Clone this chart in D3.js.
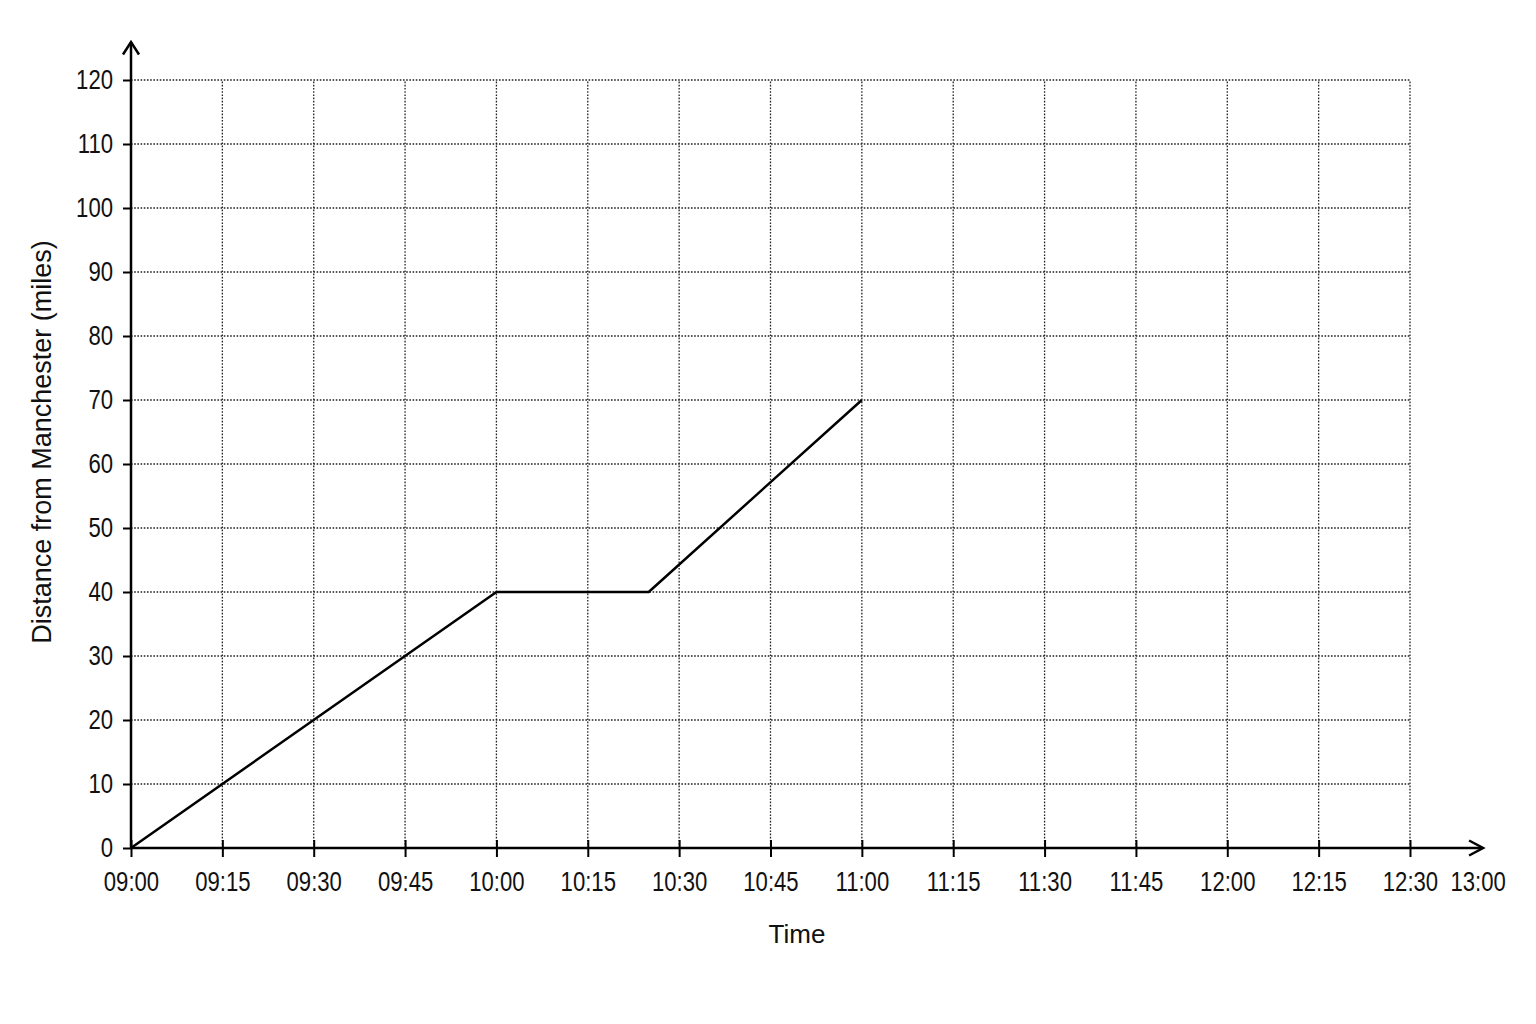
<!DOCTYPE html>
<html>
<head>
<meta charset="utf-8">
<script src="https://cdn.jsdelivr.net/npm/d3@7"></script>
<style>
  body { margin: 0; background: #fff; }
  .tick text { font-family: "Liberation Sans", Arial, sans-serif; font-size: 27px; fill: #111; }
  .title { font-family: "Liberation Sans", Arial, sans-serif; font-size: 27px; fill: #111; }
</style>
</head>
<body>
<script>
// journey data: minutes after 09:00 and distance in miles
var timeMinutes = [0, 60, 85, 120];
var distanceMiles = [0, 40, 40, 70];

// axis ticks
var xTickMinutes = [0, 15, 30, 45, 60, 75, 90, 105, 120, 135, 150, 165, 180, 195, 210];
var xTickLabels = ["09:00", "09:15", "09:30", "09:45", "10:00", "10:15", "10:30", "10:45",
  "11:00", "11:15", "11:30", "11:45", "12:00", "12:15", "12:30"];
var xEndLabel = "13:00";
var yTicks = [0, 10, 20, 30, 40, 50, 60, 70, 80, 90, 100, 110, 120];

var width = 1536;
var height = 1024;
var axisEndMin = 222; // where the x arrow stops
var yArrowTop = 42;
var squeeze = 0.82; // tick labels are a narrow face

var svg = d3
  .select("body")
  .append("svg")
  .attr("width", width)
  .attr("height", height);

var x = d3.scaleLinear().domain([0, 210]).range([131, 1410]);
var y = d3.scaleLinear().domain([0, 120]).range([848, 80]);

// dotted grid
var grid = svg.append("g").attr("stroke", "#222").attr("stroke-width", 1.3).attr("stroke-dasharray", "1.6,1.6");
grid.selectAll(".vgrid")
  .data(xTickMinutes.slice(1))
  .enter()
  .append("line")
  .attr("x1", function (d) { return x(d); })
  .attr("x2", function (d) { return x(d); })
  .attr("y1", y(0))
  .attr("y2", y(120));
grid.selectAll(".hgrid")
  .data(yTicks.slice(1))
  .enter()
  .append("line")
  .attr("x1", x(0))
  .attr("x2", x(210))
  .attr("y1", function (d) { return y(d); })
  .attr("y2", function (d) { return y(d); });

// x axis with ticks crossing the line
var xAxis = d3.axisBottom(x)
  .tickValues(xTickMinutes)
  .tickFormat(function (d, i) { return xTickLabels[i]; })
  .tickSizeInner(9)
  .tickSizeOuter(0)
  .tickPadding(15);
var gx = svg.append("g").attr("transform", "translate(0," + y(0) + ")").call(xAxis);
gx.select(".domain").remove();
gx.selectAll(".tick line").attr("y1", -8).attr("stroke", "#000").attr("stroke-width", 2);
gx.selectAll(".tick text").attr("dy", "0.72em").attr("transform", "scale(" + squeeze + ",1)");

var yAxis = d3.axisLeft(y)
  .tickValues(yTicks)
  .tickSizeInner(8)
  .tickSizeOuter(0)
  .tickPadding(10);
var gy = svg.append("g").attr("transform", "translate(" + x(0) + ",0)").call(yAxis);
gy.select(".domain").remove();
gy.selectAll(".tick line").attr("stroke", "#000").attr("stroke-width", 2);
gy.selectAll(".tick text")
  .attr("x", -18 / squeeze)
  .attr("transform", "scale(" + squeeze + ",1)");

// axis lines with arrowheads
var axisLine = svg.append("g").attr("stroke", "#000").attr("stroke-width", 2.5).attr("fill", "none");
axisLine.append("line")
  .attr("x1", x(0)).attr("y1", y(0))
  .attr("x2", x(axisEndMin)).attr("y2", y(0));
axisLine.append("polyline")
  .attr("points", [[x(axisEndMin) - 14, y(0) - 7.5], [x(axisEndMin), y(0)], [x(axisEndMin) - 14, y(0) + 7.5]].join(" "));
axisLine.append("line")
  .attr("x1", x(0)).attr("y1", y(0))
  .attr("x2", x(0)).attr("y2", yArrowTop);
axisLine.append("polyline")
  .attr("points", [[x(0) - 8, yArrowTop + 12.5], [x(0), yArrowTop], [x(0) + 8, yArrowTop + 12.5]].join(" "));

// end label at the arrow
svg.append("g").attr("class", "tick")
  .attr("transform", "translate(" + (x(axisEndMin) - 5) + "," + (y(0) + 24) + ")")
  .append("text")
  .attr("dy", "0.72em")
  .attr("text-anchor", "middle")
  .attr("transform", "scale(" + squeeze + ",1)")
  .text(xEndLabel);

// the journey line
var points = timeMinutes.map(function (t, i) { return [t, distanceMiles[i]]; });
var line = d3.line()
  .x(function (d) { return x(d[0]); })
  .y(function (d) { return y(d[1]); });
svg.append("path")
  .datum(points)
  .attr("d", line)
  .attr("fill", "none")
  .attr("stroke", "#000")
  .attr("stroke-width", 2.5)
  .attr("stroke-linejoin", "round");

// titles
svg.append("text")
  .attr("class", "title")
  .attr("x", 797)
  .attr("y", 943)
  .attr("text-anchor", "middle")
  .style("font-size", "26px")
  .text("Time");
svg.append("text")
  .attr("class", "title")
  .attr("transform", "translate(51,442) rotate(-90)")
  .attr("text-anchor", "middle")
  .text("Distance from Manchester (miles)");
</script>
</body>
</html>
